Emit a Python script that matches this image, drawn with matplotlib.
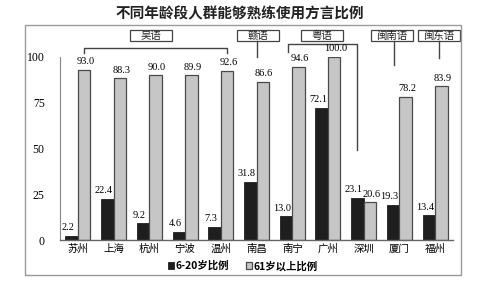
import numpy as np
import matplotlib
matplotlib.use("Agg")
import matplotlib.pyplot as plt
from matplotlib.patches import Rectangle

plt.rcParams['font.family'] = ['Noto Sans CJK SC', 'DejaVu Sans']

# --- DATA ---
cities = ['苏州', '上海', '杭州', '宁波', '温州', '南昌', '南宁', '广州', '深圳', '厦门', '福州']
young = [2.2, 22.4, 9.2, 4.6, 7.3, 31.8, 13.0, 72.1, 23.1, 19.3, 13.4]
old = [93.0, 88.3, 90.0, 89.9, 92.6, 86.6, 94.6, 100.0, 20.6, 78.2, 83.9]
yticks = [0, 25, 50, 75, 100]
series_names = ['6-20岁比例', '61岁以上比例']
title = '不同年龄段人群能够熟练使用方言比例'

# dialect groups: label, first city, last city
groups = [('吴语', 0, 4), ('赣语', 5, 5), ('粤语', 6, 8), ('闽南语', 9, 9), ('闽东语', 10, 10)]

DARK = '#1e1e1e'
GRAY = '#c6c6c6'
EDGE = '#4a4a4a'
num_font = 'Liberation Serif'

fig = plt.figure(figsize=(4.79, 2.82), dpi=100)
ax = fig.add_axes([0.1253, 0.1489, 0.8205, 0.649])

# outer frame
fig.patches.append(Rectangle((25 / 479, 1 - 275 / 282), 436 / 479, 250 / 282,
                             transform=fig.transFigure, fill=False,
                             edgecolor='#9a9a9a', linewidth=1.0))

fig.text(0.5, 1 - 13 / 282, title, ha='center', va='center',
         fontsize=10.5, fontweight='bold', color='#222222')

x = np.arange(len(cities))
w = 0.35
b1 = ax.bar(x - w / 2, young, w, color=DARK, edgecolor=DARK, linewidth=0.6,
            label=series_names[0])
b2 = ax.bar(x + w / 2, old, w, color=GRAY, edgecolor=EDGE, linewidth=0.9,
            label=series_names[1])

for rect, v in zip(b1, young):
    ax.text(rect.get_x() + rect.get_width() / 2 - 0.1, v + 2, f'{v:.1f}',
            ha='center', va='bottom', fontsize=7.5, family=num_font, clip_on=False)
for rect, v in zip(b2, old):
    ax.text(rect.get_x() + rect.get_width() / 2 + 0.04, v + 2, f'{v:.1f}',
            ha='center', va='bottom', fontsize=7.5, family=num_font, clip_on=False)

ax.set_xlim(-0.5, len(cities) - 0.5)
ax.set_ylim(0, 100)
ax.set_yticks(yticks)
ax.set_yticklabels([str(t) for t in yticks], family=num_font, fontsize=8.5)
ax.tick_params(axis='y', length=0, pad=11)
ax.set_xticks(x)
ax.set_xticklabels(cities, fontsize=7.5)
ax.tick_params(axis='x', length=0, pad=3)
for s in ['top', 'right']:
    ax.spines[s].set_visible(False)
ax.spines['left'].set_color('#888888')
ax.spines['bottom'].set_color('#666666')
ax.spines['left'].set_linewidth(0.8)
ax.spines['bottom'].set_linewidth(1.0)

# --- group annotations ---
line_kw = dict(color='#444444', linewidth=1.0, clip_on=False)
box_w, box_h, box_y = 1.18, 6.0, 108.5


def label_box(cx, text):
    ax.add_patch(Rectangle((cx - box_w / 2, box_y), box_w, box_h, fill=False,
                           edgecolor='#444444', linewidth=0.9, clip_on=False))
    ax.text(cx, box_y + box_h / 2, text, ha='center', va='center',
            fontsize=7.5, color='#222222', clip_on=False)


# 吴语 bracket
s, e = groups[0][1], groups[0][2]
ax.plot([s + w / 2, s + w / 2, e + w / 2, e + w / 2], [102.2, 104.9, 104.9, 102.2], **line_kw)
label_box((s + e) / 2 + 0.05, groups[0][0])

# 赣语
label_box(groups[1][1] + 0.03, groups[1][0])
ax.plot([groups[1][1] + 0.01] * 2, [box_y, 100], **line_kw)

# 粤语 bracket
s, e = groups[2][1], groups[2][2]
ax.plot([s - 0.12, s - 0.12, e - 0.19, e - 0.19], [102.7, 107.1, 107.1, 49.2], **line_kw)
label_box(s + 0.83, groups[2][0])

# 闽南语
label_box(groups[3][1] - 0.21, groups[3][0])
ax.plot([groups[3][1] - 0.15] * 2, [box_y, 95.6], **line_kw)

# 闽东语
label_box(groups[4][1] + 0.1, groups[4][0])
ax.plot([groups[4][1] + 0.1] * 2, [box_y, 99.5], **line_kw)

leg = ax.legend(loc='center', bbox_to_anchor=(0.507, 1 - 266 / 282),
                bbox_transform=fig.transFigure, ncol=2, frameon=False,
                handlelength=0.6, handleheight=0.6, handletextpad=0.15,
                columnspacing=1.6, prop={'size': 7.5, 'weight': 'bold'})

fig.savefig('out.png', dpi=100)
